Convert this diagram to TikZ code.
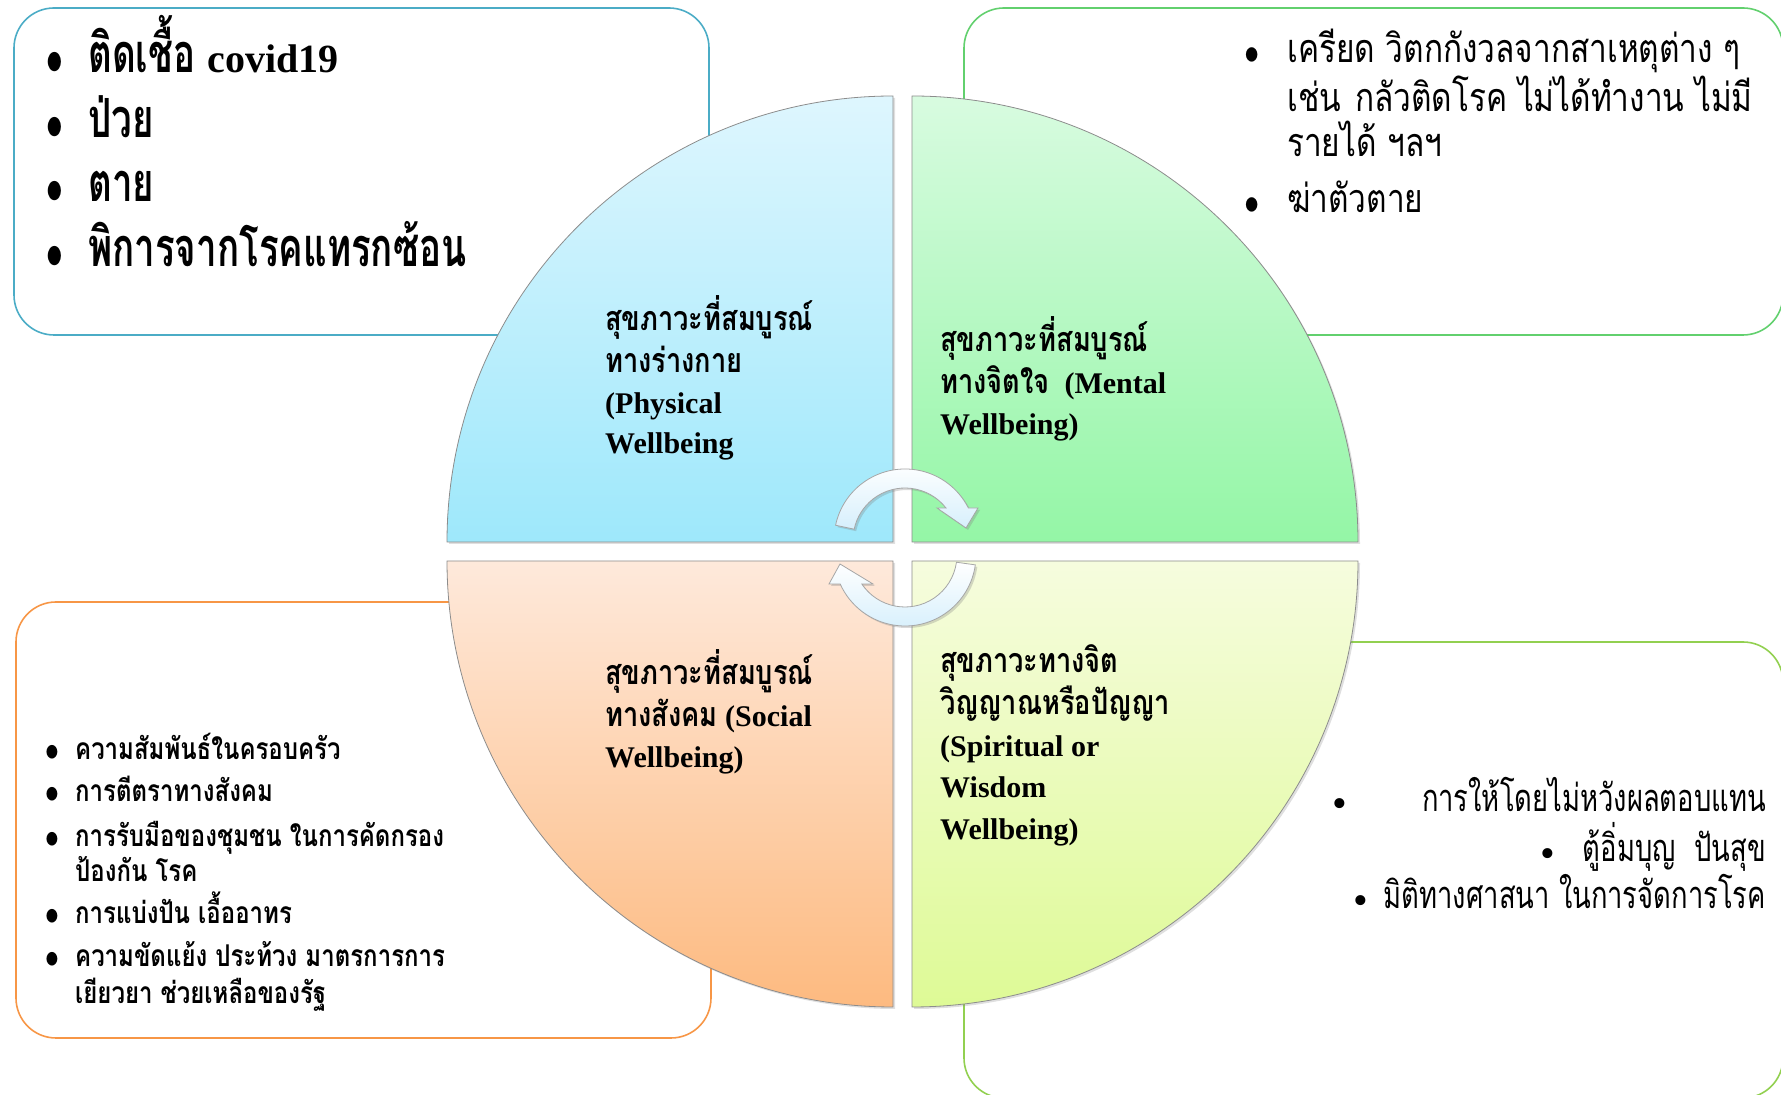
\documentclass[tikz,border=0pt]{standalone}
\usepackage{fontspec}
\setmainfont{Liberation Serif}
\newfontfamily\thaifont[Script=Thai,FakeStretch=0.8]{Loma}
\newfontfamily\thaicond[Script=Thai,FakeStretch=0.68]{Loma}
\newfontfamily\thainarrow[Script=Thai,FakeStretch=0.72]{Loma}
\usetikzlibrary{calc,shadows}

\definecolor{boxblue}{RGB}{75,172,198}
\definecolor{boxgreen}{RGB}{98,208,110}
\definecolor{boxorange}{RGB}{247,150,70}
\definecolor{boxlime}{RGB}{146,208,80}
\definecolor{physTop}{RGB}{222,246,254}
\definecolor{physBot}{RGB}{158,232,251}
\definecolor{mentTop}{RGB}{216,251,224}
\definecolor{mentBot}{RGB}{148,246,166}
\definecolor{socTop}{RGB}{254,233,219}
\definecolor{socBot}{RGB}{253,186,128}
\definecolor{spirTop}{RGB}{246,252,222}
\definecolor{spirBot}{RGB}{222,250,150}
\definecolor{arrowblue}{RGB}{214,239,252}

\newcommand\thtxt[1]{{\thaifont #1}}
\newcommand\bigdot[1]{{\fontsize{#1}{#1}\selectfont\raisebox{-0.12em}{\textbullet}}}
\newcommand\bul[2]{\makebox[#1][l]{\bigdot{#2}}}

\begin{document}
\begin{tikzpicture}[x=1pt,y=1pt,
	infobox/.style={line width=1.6pt, rounded corners=40pt},
	quarter/.style={draw=black!45, line width=0.8pt, drop shadow={opacity=0.25, shadow xshift=2pt, shadow yshift=-2pt}},
	cyclearrow/.style={draw=black!35, line width=0.8pt, top color=white, bottom color=arrowblue, drop shadow={opacity=0.3, shadow xshift=2pt, shadow yshift=-2pt}},
	bigline/.style={anchor=base west, inner sep=0pt, font=\fontsize{54}{60}\selectfont\bfseries\thaicond},
	qline/.style={anchor=base west, inner sep=0pt, font=\fontsize{30}{36}\selectfont\bfseries},
	mentline/.style={anchor=base west, inner sep=0pt, font=\fontsize{39.5}{46}\selectfont\thaifont},
	socline/.style={anchor=base west, inner sep=0pt, font=\fontsize{30}{36}\selectfont\bfseries\thaifont},
	giveline/.style={anchor=base east, inner sep=0pt, font=\fontsize{38}{44}\selectfont\thainarrow},
	givedot/.style={anchor=base, inner sep=0pt}]
		%%%%% START %%%%%
		\useasboundingbox (0,0) rectangle (1781,1095);
		\clip (0,0) rectangle (1781,1095);
		
		% info boxes behind the wheel
		\draw[infobox, draw=boxblue] (14,1087) rectangle (709,760);
		\draw[infobox, draw=boxgreen] (964,1087) rectangle (1783,760);
		\draw[infobox, draw=boxorange] (16,493) rectangle (711,57);
		\draw[infobox, draw=boxlime] (964,453) rectangle (1783,-3);
		
		% four quarters
		\path[quarter, top color=physTop, bottom color=physBot] (893,553) -- (447,553) arc[start angle=180, end angle=90, radius=446] -- cycle;
		\path[quarter, top color=mentTop, bottom color=mentBot] (912,553) -- (912,999) arc[start angle=90, end angle=0, radius=446] -- cycle;
		\path[quarter, top color=socTop, bottom color=socBot] (893,534) -- (893,88) arc[start angle=270, end angle=180, radius=446] -- cycle;
		\path[quarter, top color=spirTop, bottom color=spirBot] (912,534) -- (1358,534) arc[start angle=0, end angle=-90, radius=446] -- cycle;
		
		% cycle arrows
		\coordinate (tc) at (905,555);
		\coordinate (bc) at (905,540);
		\draw[cyclearrow] ($(tc)+(168:71)$) arc[start angle=168, end angle=26.8, radius=71] -- (978,587) -- (966,567) -- (937,587) -- (946,587) arc[start angle=38, end angle=168, radius=52] -- cycle;
		\draw[cyclearrow] ($(bc)+(-8:71)$) arc[start angle=-8, end angle=-155.9, radius=71] -- (829,511) -- (840,531) -- (873,511) -- (861.8,511) arc[start angle=-146.1, end angle=-8, radius=52] -- cycle;
		
		% physical box
		\node[bigline] (phy1) at (46,1022) {\bul{42pt}{54}ติดเชื้อ {\fontsize{40}{46}\selectfont\rmfamily covid19}};
		\node[bigline] (phy2) at (46,957) {\bul{42pt}{54}ป่วย};
		\node[bigline] (phy3) at (46,893) {\bul{42pt}{54}ตาย};
		\node[bigline] (phy4) at (46,828) {\bul{42pt}{54}พิการจากโรคแทรกซ้อน};
		
		% mental box
		\node[mentline] (men1) at (1244,1032) {\bul{43pt}{42}เครียด วิตกกังวลจากสาเหตุต่าง ๆ};
		\node[mentline] (men2) at (1287,983) {เช่น\hspace{14pt}กลัวติดโรค ไม่ได้ทำงาน ไม่มี};
		\node[mentline] (men3) at (1287,938) {รายได้ ฯลฯ};
		\node[mentline] (men4) at (1244,882) {\bul{43pt}{42}ฆ่าตัวตาย};
		
		% social box
		\node[socline] (soc1) at (45,335) {\bul{30pt}{38}ความสัมพันธ์ในครอบครัว};
		\node[socline] (soc2) at (45,293) {\bul{30pt}{38}การตีตราทางสังคม};
		\node[socline] (soc3) at (45,248) {\bul{30pt}{38}การรับมือของชุมชน ในการคัดกรอง};
		\node[socline] (soc4) at (75,213) {ป้องกัน โรค};
		\node[socline] (soc5) at (45,171) {\bul{30pt}{38}การแบ่งปัน เอื้ออาทร};
		\node[socline] (soc6) at (45,128) {\bul{30pt}{38}ความขัดแย้ง ประท้วง มาตรการการ};
		\node[socline] (soc7) at (75,91) {เยียวยา ช่วยเหลือของรัฐ};
		
		% spiritual box
		\node[giveline] (giv1) at (1766,283) {การให้โดยไม่หวังผลตอบแทน};
		\node[giveline] (giv2) at (1766,233) {ตู้อิ่มบุญ\ \ ปันสุข};
		\node[giveline] (giv3) at (1766,186) {มิติทางศาสนา ในการจัดการโรค};
		\node[givedot] (dot1) at (1340,283) {\bigdot{42}};
		\node[givedot] (dot2) at (1548,233) {\bigdot{42}};
		\node[givedot] (dot3) at (1361,186) {\bigdot{42}};
		
		% quarter titles
		\node[qline] (phyt1) at (605,764) {\fontsize{34}{40}\selectfont\thtxt{สุขภาวะที่สมบูรณ์}};
		\node[qline] (phyt2) at (605,722) {\fontsize{34}{40}\selectfont\thtxt{ทางร่างกาย}};
		\node[qline] (phyt3) at (605,681) {(Physical};
		\node[qline] (phyt4) at (605,641) {Wellbeing};
		
		\node[qline] (ment1) at (940,743) {\fontsize{34}{40}\selectfont\thtxt{สุขภาวะที่สมบูรณ์}};
		\node[qline] (ment2) at (940,701) {{\fontsize{34}{40}\selectfont\thtxt{ทางจิตใจ}}\ \ (Mental};
		\node[qline] (ment3) at (940,660) {Wellbeing)};
		
		\node[qline] (soct1) at (605,410) {\fontsize{34}{40}\selectfont\thtxt{สุขภาวะที่สมบูรณ์}};
		\node[qline] (soct2) at (605,368) {{\fontsize{34}{40}\selectfont\thtxt{ทางสังคม}} (Social};
		\node[qline] (soct3) at (605,327) {Wellbeing)};
		
		\node[qline] (spir1) at (940,422) {\fontsize{34}{40}\selectfont\thtxt{สุขภาวะทางจิต}};
		\node[qline] (spir2) at (940,380) {\fontsize{34}{40}\selectfont\thtxt{วิญญาณหรือปัญญา}};
		\node[qline] (spir3) at (940,338) {(Spiritual or};
		\node[qline] (spir4) at (940,297) {Wisdom};
		\node[qline] (spir5) at (940,255) {Wellbeing)};
		%%%%% END %%%%%
\end{tikzpicture}
\end{document}
